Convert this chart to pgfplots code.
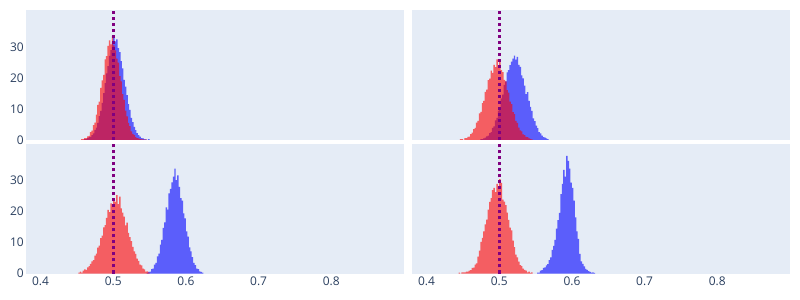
\documentclass[border=0pt]{standalone}
\usepackage{pgfplots}
\pgfplotsset{compat=1.18}
\usepackage{fontspec}
\setmainfont{Open Sans}
\definecolor{bgc}{HTML}{E5ECF6}
\definecolor{txt}{HTML}{2A3F5F}
\definecolor{vl}{RGB}{128,0,128}
\pgfplotsset{
  hist/.style={scale only axis, width=378bp, height=130bp,
    xmin=0.38, xmax=0.9, ymin=0, ymax=41.9,
    axis background/.style={fill=bgc},
    axis line style={draw=none}, tick style={draw=none},
    xtick={0.4,0.5,0.6,0.7,0.8}, ytick={0,10,20,30},
    xticklabels={0.4,0.5,0.6,0.7,0.8}, yticklabels={0,10,20,30},
    ticklabel style={font=\fontsize{12}{14}\selectfont, text=txt},
    yticklabel style={inner sep=2bp},
    anchor=south west},
  notx/.style={xticklabels={}},
  noty/.style={yticklabels={}},
  bh/.style={draw=none, fill=blue, fill opacity=0.6, const plot mark left},
  rh/.style={draw=none, fill=red, fill opacity=0.6, const plot mark left},
  vline/.style={vl, line width=2.6bp, dash pattern=on 3bp off 3bp}
}
\begin{document}
\begin{tikzpicture}
\useasboundingbox (0,0) rectangle (800bp,300bp);
% ---------------- top left
\begin{axis}[hist, notx, at={(26bp,160bp)}]
\addplot[bh] coordinates {
(0.460,0.3)(0.462,0.3)(0.464,0.6)(0.466,0.9)(0.468,1.0)(0.470,1.6)(0.472,2.1)(0.474,3.3)
(0.476,4.0)(0.478,5.5)(0.480,7.7)(0.482,9.4)(0.484,12.0)(0.486,15.1)(0.488,18.3)(0.490,21.5)
(0.492,23.8)(0.494,27.1)(0.496,29.0)(0.498,31.4)(0.500,33.2)(0.502,31.8)(0.504,32.4)(0.506,29.6)
(0.508,28.3)(0.510,25.4)(0.512,23.1)(0.514,19.4)(0.516,17.2)(0.518,14.5)(0.520,11.6)(0.522,9.7)
(0.524,7.1)(0.526,5.8)(0.528,4.2)(0.530,3.2)(0.532,2.2)(0.534,1.6)(0.536,1.1)(0.538,0.6)
(0.540,0.5)(0.542,0.3)(0.544,0.2)(0.546,0.0)(0.548,0.3)(0.550,0)} \closedcycle;
\addplot[rh] coordinates {
(0.456,0.3)(0.458,0.3)(0.460,0.6)(0.462,0.6)(0.464,1.2)(0.466,1.3)(0.468,2.5)(0.470,3.0)
(0.472,4.8)(0.474,5.6)(0.476,8.2)(0.478,11.3)(0.480,12.4)(0.482,16.8)(0.484,19.2)(0.486,21.0)
(0.488,26.0)(0.490,27.0)(0.492,30.3)(0.494,32.1)(0.496,30.8)(0.498,33.5)(0.500,30.5)(0.502,28.9)
(0.504,26.2)(0.506,24.9)(0.508,20.6)(0.510,18.9)(0.512,14.8)(0.514,12.9)(0.516,9.5)(0.518,7.6)
(0.520,5.5)(0.522,4.5)(0.524,2.8)(0.526,2.0)(0.528,1.6)(0.530,0.9)(0.532,0.6)(0.534,0.5)
(0.536,0.3)(0.538,0.2)(0.540,0.2)(0.542,0.0)(0.544,0.2)(0.546,0)} \closedcycle;
\addplot[vline] coordinates {(0.5,0) (0.5,41.9)};
\end{axis}
% ---------------- top right
\begin{axis}[hist, notx, noty, at={(412bp,160bp)}]
\addplot[bh] coordinates {
(0.474,0.3)(0.476,0.3)(0.478,0.5)(0.480,0.8)(0.482,1.2)(0.484,1.4)(0.486,2.2)(0.488,2.5)
(0.490,3.9)(0.492,4.4)(0.494,6.3)(0.496,7.1)(0.498,9.5)(0.500,10.6)(0.502,13.4)(0.504,14.6)
(0.506,17.8)(0.508,18.9)(0.510,21.8)(0.512,22.5)(0.514,24.1)(0.516,25.3)(0.518,26.2)(0.520,27.2)
(0.522,25.9)(0.524,26.8)(0.526,24.2)(0.528,23.6)(0.530,20.8)(0.532,19.9)(0.534,17.5)(0.536,14.8)
(0.538,15.4)(0.540,12.6)(0.542,10.7)(0.544,9.4)(0.546,7.0)(0.548,6.1)(0.550,4.6)(0.552,3.8)
(0.554,2.5)(0.556,2.1)(0.558,1.4)(0.560,0.9)(0.562,0.8)(0.564,0.5)(0.566,0.3)(0.568,0)} \closedcycle;
\addplot[rh] coordinates {
(0.446,0.3)(0.448,0.3)(0.450,0.0)(0.452,0.6)(0.454,0.6)(0.456,1.0)(0.458,1.1)(0.460,1.9)
(0.462,2.4)(0.464,3.5)(0.466,3.9)(0.468,5.6)(0.470,6.2)(0.472,8.6)(0.474,9.1)(0.476,11.9)
(0.478,12.6)(0.480,15.5)(0.482,16.2)(0.484,19.3)(0.486,19.8)(0.488,22.4)(0.490,21.6)(0.492,24.2)
(0.494,23.5)(0.496,26.0)(0.498,23.8)(0.500,25.1)(0.502,22.5)(0.504,21.9)(0.506,19.4)(0.508,18.9)
(0.510,16.1)(0.512,15.3)(0.514,12.4)(0.516,11.6)(0.518,9.0)(0.520,8.3)(0.522,6.2)(0.524,5.5)
(0.526,4.0)(0.528,3.1)(0.530,2.8)(0.532,1.8)(0.534,1.6)(0.536,1.0)(0.538,0.9)(0.540,0.5)
(0.542,0.4)(0.544,0.2)(0.546,0)} \closedcycle;
\addplot[vline] coordinates {(0.5,0) (0.5,41.9)};
\end{axis}
% ---------------- bottom left
\begin{axis}[hist, at={(26bp,26.5bp)}]
\addplot[bh] coordinates {
(0.546,0.3)(0.548,0.5)(0.550,0.6)(0.552,1.4)(0.554,1.6)(0.556,2.9)(0.558,3.4)(0.560,5.5)
(0.562,6.4)(0.564,9.3)(0.566,10.8)(0.568,14.7)(0.570,16.5)(0.572,21.3)(0.574,20.6)(0.576,25.8)
(0.578,27.3)(0.580,29.4)(0.582,31.2)(0.584,33.8)(0.586,30.1)(0.588,31.6)(0.590,27.9)(0.592,24.3)
(0.594,23.5)(0.596,19.4)(0.598,17.8)(0.600,13.6)(0.602,11.9)(0.604,8.4)(0.606,7.1)(0.608,5.3)
(0.610,3.4)(0.612,2.7)(0.614,1.6)(0.616,1.4)(0.618,0.7)(0.620,0.5)(0.622,0.3)(0.624,0)} \closedcycle;
\addplot[rh] coordinates {
(0.452,0.3)(0.454,0.6)(0.456,0.3)(0.458,0.9)(0.460,1.3)(0.462,1.2)(0.464,2.0)(0.466,2.4)
(0.468,3.1)(0.470,3.9)(0.472,4.3)(0.474,5.8)(0.476,6.4)(0.478,8.3)(0.480,9.0)(0.482,11.4)
(0.484,12.2)(0.486,14.9)(0.488,15.6)(0.490,17.9)(0.492,20.5)(0.494,19.8)(0.496,22.6)(0.498,21.9)
(0.500,24.2)(0.502,23.1)(0.504,25.3)(0.506,22.4)(0.508,24.8)(0.510,21.0)(0.512,19.6)(0.514,18.3)
(0.516,15.5)(0.518,16.4)(0.520,13.1)(0.522,11.7)(0.524,10.4)(0.526,8.6)(0.528,7.1)(0.530,6.3)
(0.532,4.8)(0.534,4.1)(0.536,2.9)(0.538,2.6)(0.540,1.6)(0.542,1.3)(0.544,0.6)(0.546,0.7)
(0.548,0.3)(0.550,0)} \closedcycle;
\addplot[vline] coordinates {(0.5,0) (0.5,41.9)};
\end{axis}
% ---------------- bottom right
\begin{axis}[hist, noty, at={(412bp,26.5bp)}]
\addplot[bh] coordinates {
(0.552,0.3)(0.554,0.3)(0.556,0.9)(0.558,1.1)(0.560,1.8)(0.562,2.0)(0.564,2.6)(0.566,3.0)
(0.568,4.3)(0.570,5.2)(0.572,7.6)(0.574,8.9)(0.576,10.8)(0.578,14.5)(0.580,17.2)(0.582,19.5)
(0.584,25.6)(0.586,28.9)(0.588,33.4)(0.590,31.2)(0.592,37.9)(0.594,36.3)(0.596,33.8)(0.598,29.3)
(0.600,27.6)(0.602,23.5)(0.604,18.1)(0.606,13.6)(0.608,11.2)(0.610,6.3)(0.612,3.9)(0.614,3.1)
(0.616,2.3)(0.618,1.5)(0.620,1.2)(0.622,0.8)(0.624,0.5)(0.626,0.3)(0.628,0.4)(0.630,0.2)
(0.632,0)} \closedcycle;
\addplot[rh] coordinates {
(0.444,0.3)(0.446,0.0)(0.448,0.4)(0.450,0.4)(0.452,0.4)(0.454,0.6)(0.456,0.6)(0.458,0.9)
(0.460,1.1)(0.462,1.8)(0.464,1.9)(0.466,2.9)(0.468,3.3)(0.470,5.4)(0.472,7.4)(0.474,10.2)
(0.476,11.5)(0.478,13.6)(0.480,15.8)(0.482,17.4)(0.484,20.6)(0.486,23.1)(0.488,24.3)(0.490,26.9)
(0.492,27.6)(0.494,26.2)(0.496,28.9)(0.498,28.1)(0.500,30.4)(0.502,29.2)(0.504,23.8)(0.506,23.2)
(0.508,22.0)(0.510,19.6)(0.512,17.3)(0.514,14.8)(0.516,13.9)(0.518,10.6)(0.520,8.5)(0.522,6.1)
(0.524,5.2)(0.526,3.8)(0.528,2.7)(0.530,2.4)(0.532,1.6)(0.534,1.2)(0.536,0.9)(0.538,0.4)
(0.540,0.6)(0.542,0.2)(0.544,0.4)(0.546,0)} \closedcycle;
\addplot[vline] coordinates {(0.5,0) (0.5,41.9)};
\end{axis}
\end{tikzpicture}
\end{document}
